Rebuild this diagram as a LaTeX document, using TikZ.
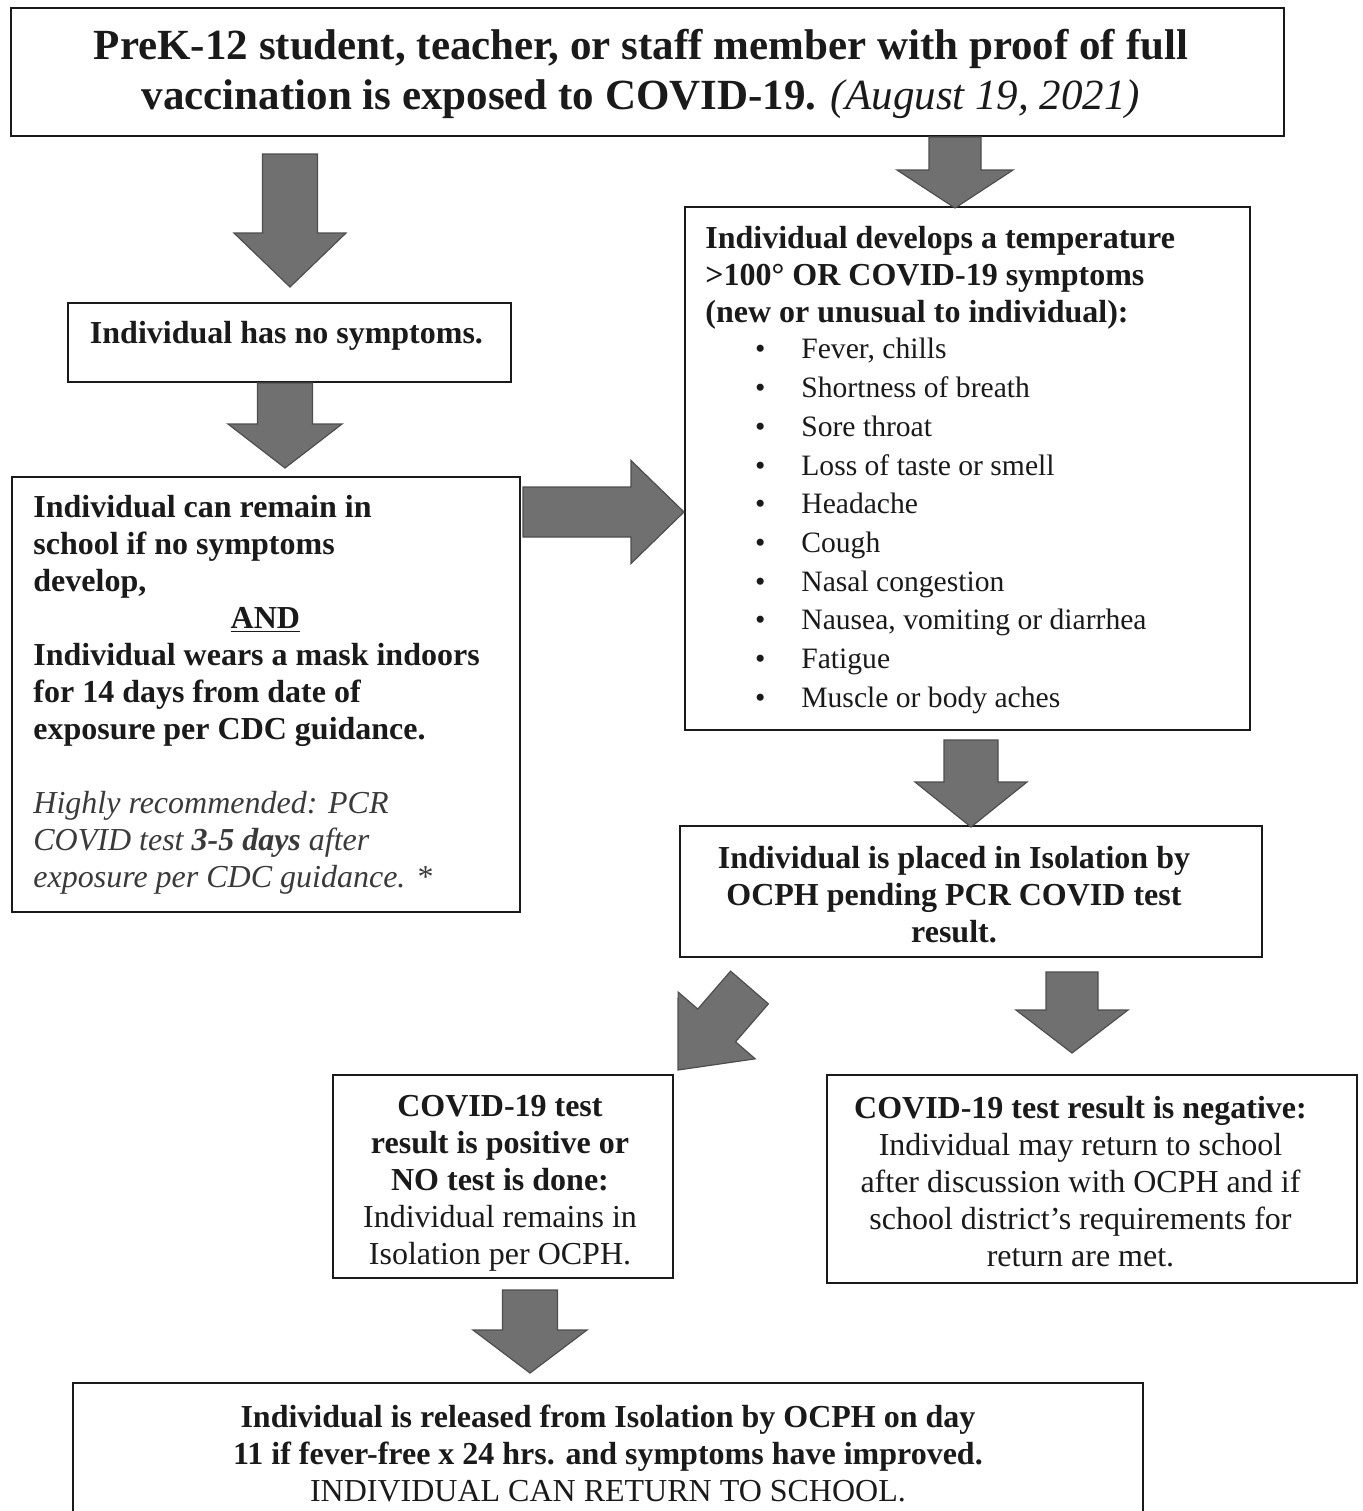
\documentclass[tikz,border=0pt]{standalone}
\usepackage{fontspec}
\setmainfont{Liberation Serif}
\usetikzlibrary{calc}
\definecolor{arrowfill}{RGB}{112,112,112}
\definecolor{arrowedge}{RGB}{78,78,78}
\definecolor{ink}{RGB}{26,26,26}
\definecolor{noteink}{RGB}{58,58,58}
\tikzset{
  frame/.style={draw=ink, line width=0.9pt, fill=white, inner sep=0pt},
  txt/.style={inner sep=0pt, text=ink, font=\fontsize{16}{18.5}\selectfont},
  titletxt/.style={inner sep=0pt, text=ink, font=\fontsize{21.5}{25}\selectfont\bfseries},
  barrow/.style={fill=arrowfill, draw=arrowedge, line width=0.6pt, line join=miter}
}
% #1 start coordinate, #2 tip coordinate, #3 shaft half width, #4 head half width, #5 head length
\newcommand\blockarrow[5]{%
  \draw[barrow] let \p1=(#1), \p2=(#2), \n1={atan2(\y2-\y1,\x2-\x1)} in
    ($(\p1)+({\n1+90}:#3)$)
    -- ($(\p2)+({\n1+180}:#5)+({\n1+90}:#3)$)
    -- ($(\p2)+({\n1+180}:#5)+({\n1+90}:#4)$)
    -- (\p2)
    -- ($(\p2)+({\n1+180}:#5)+({\n1-90}:#4)$)
    -- ($(\p2)+({\n1+180}:#5)+({\n1-90}:#3)$)
    -- ($(\p1)+({\n1-90}:#3)$) -- cycle;}
\begin{document}
\begin{tikzpicture}[x=0.5pt, y=-0.5pt]
\useasboundingbox (0,0) rectangle (1362,1511);
\clip (0,0) rectangle (1362,1511);
\fill[white] (0,0) rectangle (1362,1511);

% ---------- boxes ----------
\node[frame, minimum width=636.5pt, minimum height=64pt] (title) at (647.5,72) {};
\node[frame, minimum width=221.5pt, minimum height=39.5pt] (nosym) at (289.5,342.5) {};
\node[frame, minimum width=254pt, minimum height=217.5pt] (stay) at (266,694.5) {};
\node[frame, minimum width=282.5pt, minimum height=261.5pt] (sympt) at (967.5,468.5) {};
\node[frame, minimum width=291pt, minimum height=65.5pt] (iso) at (971,891.5) {};
\node[frame, minimum width=170pt, minimum height=101.5pt] (pos) at (503,1176.5) {};
\node[frame, minimum width=265pt, minimum height=104pt] (neg) at (1092,1179) {};
\node[frame, minimum width=535pt, minimum height=68.5pt] (rel) at (608,1451.5) {};

% ---------- texts ----------
\node[titletxt, align=center] (titleT) at (641,74)
  {PreK-12 student, teacher, or staff member with proof of full\\
   vaccination is exposed to COVID-19. {\mdseries\itshape (August 19, 2021)}};

\node[txt, font=\fontsize{16}{18.5}\selectfont\bfseries] (nosymT) at (286.5,336)
  {Individual has no symptoms.};

\node[txt, align=left, anchor=west] (stayT) at (33,695)
  {\textbf{Individual can remain in}\\
   \textbf{school if no symptoms}\\
   \textbf{develop,}\\
   \makebox[232pt]{\textbf{\underline{AND}}}\\
   \textbf{Individual wears a mask indoors}\\
   \textbf{for 14 days from date of}\\
   \textbf{exposure per CDC guidance.}\\[18.5pt]
   \textcolor{noteink}{\itshape Highly recommended: PCR}\\
   \textcolor{noteink}{\itshape COVID test \textbf{3-5 days} after}\\
   \textcolor{noteink}{\itshape exposure per CDC guidance. *}};

\node[txt, align=left, anchor=west, font=\fontsize{16}{18.5}\selectfont\bfseries] (symptH) at (705,278)
  {Individual develops a temperature\\
   >100° OR COVID-19 symptoms\\
   (new or unusual to individual):};

\node[txt, align=left, anchor=west, font=\fontsize{14.8}{19.35}\selectfont] (symptL) at (754.8,526)
  {\makebox[23.1pt][l]{\textbullet}Fever, chills\\
   \makebox[23.1pt][l]{\textbullet}Shortness of breath\\
   \makebox[23.1pt][l]{\textbullet}Sore throat\\
   \makebox[23.1pt][l]{\textbullet}Loss of taste or smell\\
   \makebox[23.1pt][l]{\textbullet}Headache\\
   \makebox[23.1pt][l]{\textbullet}Cough\\
   \makebox[23.1pt][l]{\textbullet}Nasal congestion\\
   \makebox[23.1pt][l]{\textbullet}Nausea, vomiting or diarrhea\\
   \makebox[23.1pt][l]{\textbullet}Fatigue\\
   \makebox[23.1pt][l]{\textbullet}Muscle or body aches};

\node[txt, align=center, font=\fontsize{16}{18.5}\selectfont\bfseries] (isoT) at (954,895)
  {Individual is placed in Isolation by\\
   OCPH pending PCR COVID test\\
   result.};

\node[txt, align=center] (posT) at (500,1183)
  {\textbf{COVID-19 test}\\
   \textbf{result is positive or}\\
   \textbf{NO test is done:}\\
   Individual remains in\\
   Isolation per OCPH.};

\node[txt, align=center] (negT) at (1080.5,1182)
  {\textbf{COVID-19 test result is negative:}\\
   Individual may return to school\\
   after discussion with OCPH and if\\
   school district’s requirements for\\
   return are met.};

\node[txt, align=center] (relT) at (608,1453)
  {\textbf{Individual is released from Isolation by OCPH on day}\\
   \textbf{11 if fever-free x 24 hrs. and symptoms have improved.}\\
   INDIVIDUAL CAN RETURN TO SCHOOL.};

% ---------- block arrows ----------
\coordinate (a1s) at (290,154);   \coordinate (a1e) at (290,287);
\coordinate (a2s) at (285,383);   \coordinate (a2e) at (285,468);
\coordinate (a3s) at (955,137);   \coordinate (a3e) at (955,208);
\coordinate (a4s) at (523,512);   \coordinate (a4e) at (684,512);
\coordinate (a5s) at (971,740);   \coordinate (a5e) at (971,827);
\coordinate (a6s) at (749.5,987.5); \coordinate (a6e) at (678,1070);
\coordinate (a7s) at (1072,972);  \coordinate (a7e) at (1072,1053);
\coordinate (a8s) at (530,1290);  \coordinate (a8e) at (530,1373);

\blockarrow{a1s}{a1e}{13.75pt}{28pt}{27pt}
\blockarrow{a2s}{a2e}{13.75pt}{28.5pt}{22pt}
\blockarrow{a3s}{a3e}{13pt}{29pt}{19pt}
\blockarrow{a4s}{a4e}{12.5pt}{25.75pt}{26.5pt}
\blockarrow{a5s}{a5e}{13.5pt}{28pt}{22.5pt}
\blockarrow{a6s}{a6e}{12.5pt}{25.5pt}{29.5pt}
\blockarrow{a7s}{a7e}{13pt}{28pt}{21.5pt}
\blockarrow{a8s}{a8e}{13.75pt}{28.5pt}{21.5pt}
\end{tikzpicture}
\end{document}
